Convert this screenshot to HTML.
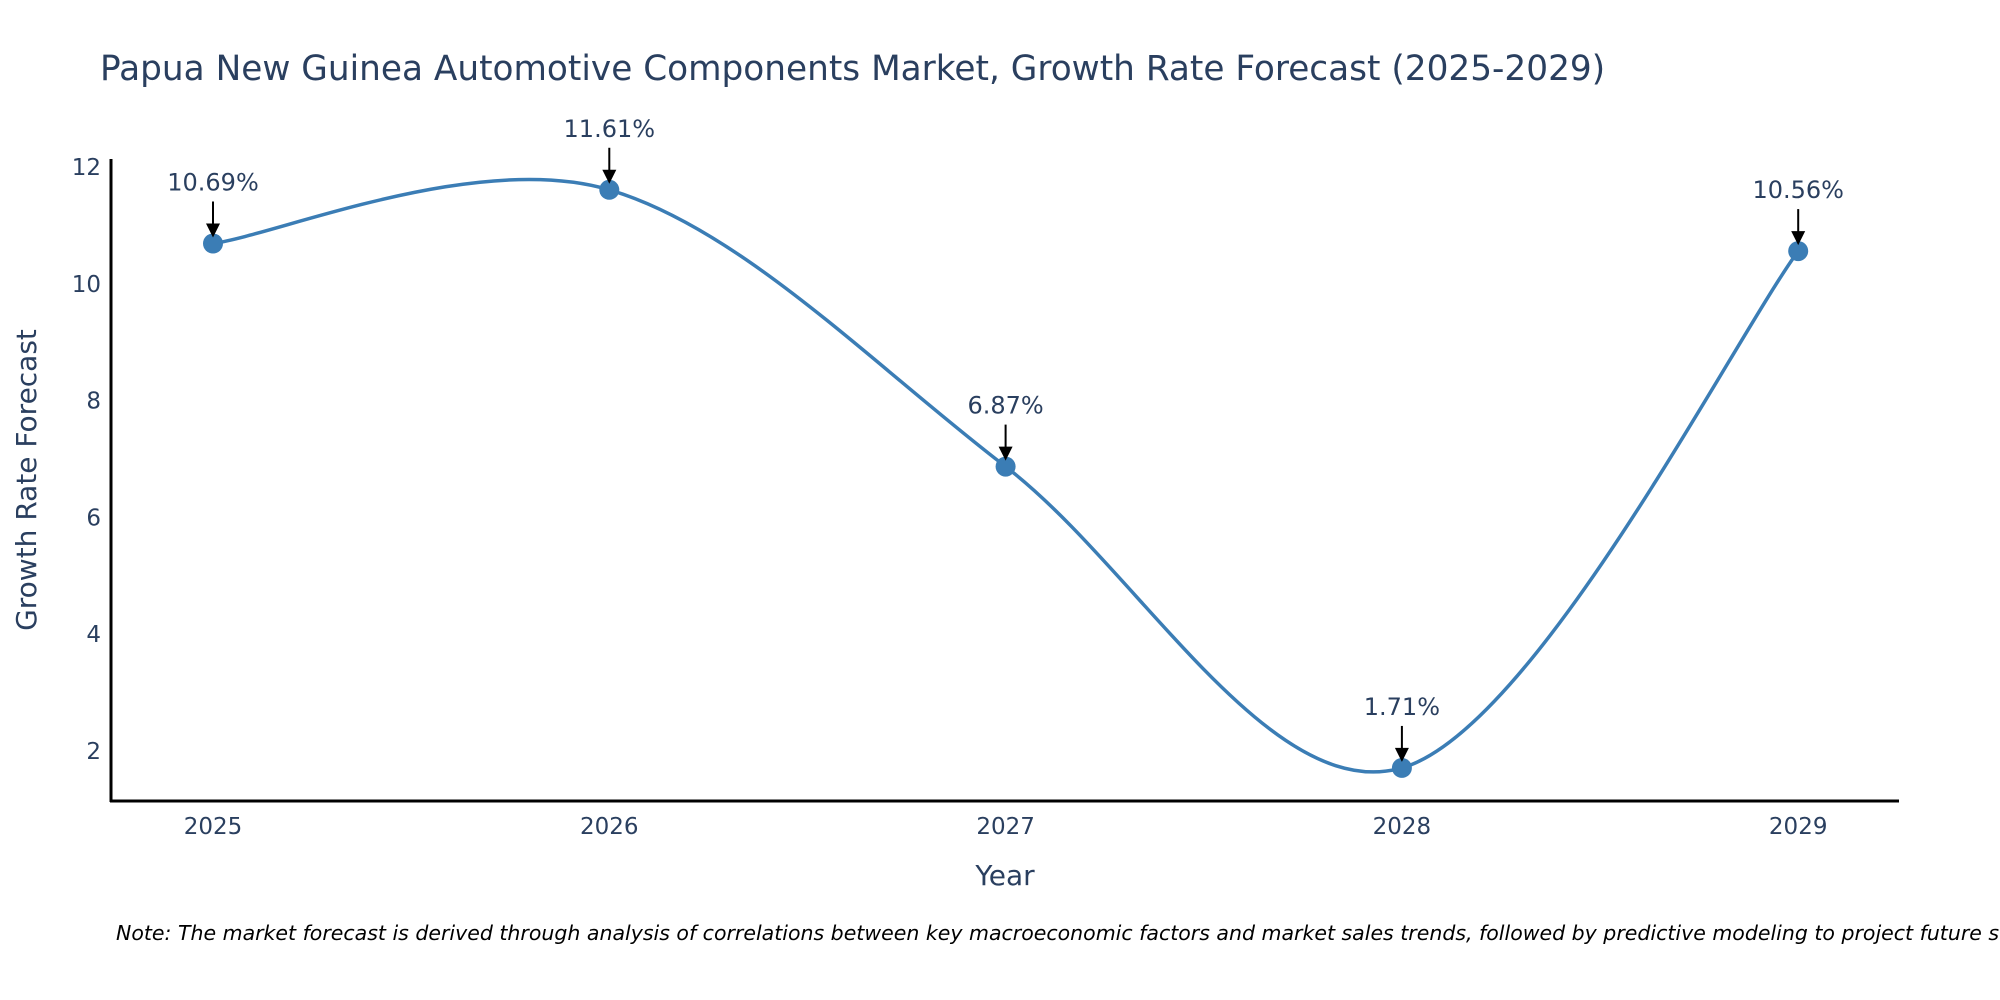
<!DOCTYPE html>
<html><head><meta charset="utf-8"><style>
body{margin:0;background:#fff;}
svg{display:block;font-family:"DejaVu Sans","Liberation Sans",sans-serif;}
</style></head><body>
<svg id="chart" width="2000" height="1000" viewBox="0 0 2000 1000">
<text x="100" y="80" font-size="34.3" fill="#2a3f5f">Papua New Guinea Automotive Components Market, Growth Rate Forecast (2025-2029)</text>
<g id="axes"></g>
<g id="series"></g>
<text x="-480" y="36" transform="rotate(-90)" font-size="28" fill="#2a3f5f" text-anchor="middle" id="ytitle">Growth Rate Forecast</text>
<text x="1005" y="885" font-size="28" fill="#2a3f5f" text-anchor="middle">Year</text>
<text x="116" y="940" font-size="20.5" font-style="italic" fill="#000">Note: The market forecast is derived through analysis of correlations between key macroeconomic factors and market sales trends, followed by predictive modeling to project future sales.</text>
</svg>
<script>
const years = ["2025","2026","2027","2028","2029"];
const growth = [10.69, 11.61, 6.87, 1.71, 10.56];
const labels = ["10.69%","11.61%","6.87%","1.71%","10.56%"];
const yTicks = [2,4,6,8,10,12];

const NS="http://www.w3.org/2000/svg";
const x0=213, dx=396.3;
const yPix=v=>751-(v-2)*58.4;
const xPix=i=>x0+i*dx;
const axes=document.getElementById('axes'), series=document.getElementById('series');
function mk(tag,attrs,parent){const e=document.createElementNS(NS,tag);for(const k in attrs)e.setAttribute(k,attrs[k]);parent.appendChild(e);return e;}

let ax=mk('line',{x1:111,y1:159,x2:111,y2:802,stroke:'#000','stroke-width':3},axes);


let bx=mk('line',{x1:110,y1:801,x2:1899,y2:801,stroke:'#000','stroke-width':3},axes);


yTicks.forEach(v=>{
  const t=mk('text',{x:101,y:yPix(v)+8,'font-size':23,fill:'#2a3f5f','text-anchor':'end'},axes);
  t.textContent=v;
  
  
});
years.forEach((y,i)=>{
  const t=mk('text',{x:xPix(i),y:834,'font-size':23,fill:'#2a3f5f','text-anchor':'middle'},axes);
  t.textContent=y;
  
  
});
const pts=growth.map((v,i)=>[xPix(i),yPix(v)]);
let d=`M${pts[0][0]},${pts[0][1]}`;
const s=0.5;
for(let i=0;i<pts.length-1;i++){
  const p0=pts[Math.max(i-1,0)],p1=pts[i],p2=pts[i+1],p3=pts[Math.min(i+2,pts.length-1)];
  const c1=[p1[0]+(p2[0]-p0[0])*s/3,p1[1]+(p2[1]-p0[1])*s/3*1.05];
  const c2=[p2[0]-(p3[0]-p1[0])*s/3,p2[1]-(p3[1]-p1[1])*s/3*1.05];
  d+=` C${c1[0]},${c1[1]} ${c2[0]},${c2[1]} ${p2[0]},${p2[1]}`;
}
const line=mk('path',{d:d,fill:'none',stroke:'#3b7db5','stroke-width':3.5},series);


pts.forEach((p,i)=>{
  const c=mk('circle',{cx:p[0],cy:p[1],r:10,fill:'#3b7db5'},series);
  
  
  const a=mk('line',{x1:p[0],y1:p[1]-42,x2:p[0],y2:p[1]-18,stroke:'#000','stroke-width':2},series);
  
  
  const h=mk('polygon',{points:`${p[0]-7},${p[1]-20} ${p[0]+7},${p[1]-20} ${p[0]},${p[1]-6}`,fill:'#000'},series);
  
  
  const t=mk('text',{x:p[0],y:p[1]-53,'font-size':24,fill:'#2a3f5f','text-anchor':'middle'},series);
  t.textContent=labels[i];
  
  
});
</script>
</body></html>
